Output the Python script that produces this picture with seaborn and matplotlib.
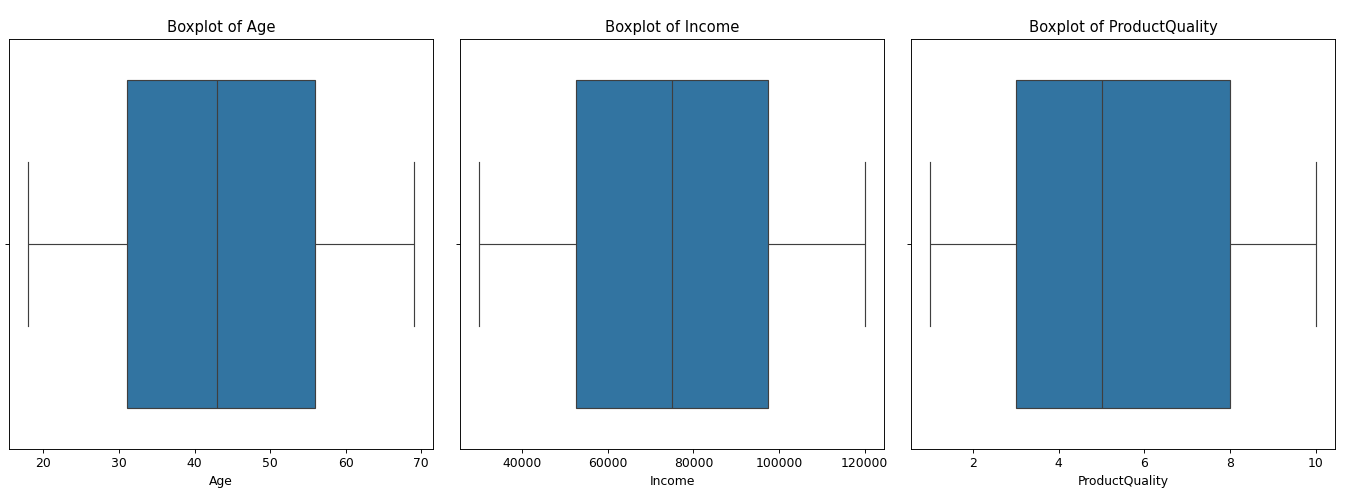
import pandas as pd
import matplotlib
matplotlib.use('Agg')
import matplotlib.pyplot as plt
import seaborn as sns

# five-number style samples (min, Q1, median, Q3, max)
age = [18, 31, 43, 56, 69]
income = [30000, 52500, 75000, 97500, 120000]
product_quality = [1, 3, 5, 8, 10]

df = pd.DataFrame({'Age': age, 'Income': income, 'ProductQuality': product_quality})
cols = ['Age', 'Income', 'ProductQuality']

plt.rcParams['font.size'] = 10.7
plt.rcParams['axes.titlesize'] = 12.8

fig, axes = plt.subplots(1, 3, figsize=(1349 / 83, 495 / 83), dpi=83)
for ax, col in zip(axes, cols):
    sns.boxplot(x=df[col], ax=ax)
    ax.set_title(f'Boxplot of {col}')

plt.subplots_adjust(left=0.0067, right=0.9896, top=0.921, bottom=0.093, wspace=0.064)
plt.savefig('out.png', dpi=83)
